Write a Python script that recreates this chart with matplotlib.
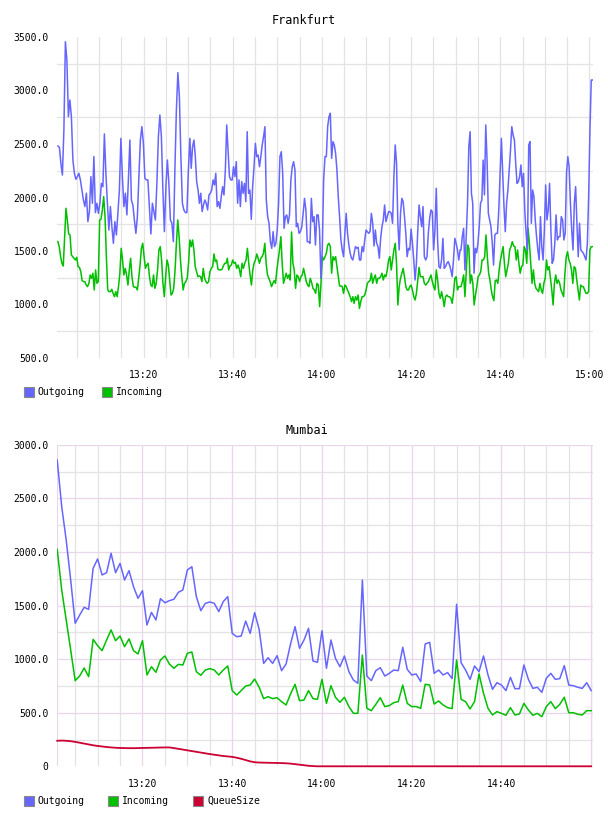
import numpy as np
import matplotlib
matplotlib.use("Agg")
import matplotlib.pyplot as plt

# ---------------- Data ----------------
# Frankfurt: minutes after 13:00, read in four consecutive windows
fra_windows = [(0.8, 30.4), (30.7, 60.7), (61.0, 91.0), (91.2, 120.7)]

fra_out_1 = [2481, 2469, 2320, 2210, 2630, 3456, 3285, 2755, 2911, 2755, 2350, 2226, 2170, 2195, 2226,
             2164, 2070, 1977, 1915, 2040, 1774, 1868, 2195, 1946, 2382, 1859, 1946, 1852, 1946, 2132,
             2101, 2594, 2226, 1946, 1696, 1915, 1727, 1572, 1774, 1650, 1852, 2070, 2553, 2195, 1915,
             2040, 1837, 2164, 2537, 1977, 1930, 1790, 1665, 1821, 2195, 2537, 2662, 2506, 2179, 2164,
             2164, 1915, 1659, 1946, 1868, 1790, 2132, 2569, 2771, 2569, 2070, 1681, 2101, 2350, 2132,
             1790, 1759, 1587, 2257, 2818, 3167, 2942, 2382, 1946, 1884, 1859, 1859, 2257, 2553]
fra_out_2 = [2273, 2475, 2537, 2382, 2148, 2070, 1946, 2040, 1868, 1930, 1977, 1946, 1884, 2024, 2039,
             2070, 2164, 2117, 2226, 1915, 1961, 1899, 2008, 2101, 2024, 2257, 2678, 2444, 2195, 2164,
             2164, 2288, 2195, 2335, 1946, 2164, 1915, 2148, 2039, 2132, 1961, 2615, 2039, 2070, 1796,
             2101, 2288, 2506, 2382, 2397, 2288, 2382, 2491, 2569, 2662, 1977, 1821, 1759, 1587, 1525,
             1681, 1541, 1572, 1696, 1946, 2382, 2428, 2226, 1712, 1821, 1837, 1759, 1837, 2164, 2288,
             2335, 2257, 1727, 1759, 1665, 1681, 1727, 1852, 1992, 1884, 1587, 1587, 1572, 1992, 1774,
             1821, 1556, 1837, 1837, 1696, 1245, 1510, 2164, 2382]
fra_out_3 = [2382, 2662, 2755, 2787, 2366, 2522, 2491, 2413, 2257, 2008, 1821, 1603, 1510, 1447, 1665,
             1852, 1665, 1556, 1478, 1432, 1416, 1478, 1541, 1525, 1535, 1416, 1416, 1541, 1494, 1603,
             1696, 1681, 1665, 1681, 1852, 1759, 1547, 1696, 1572, 1541, 1432, 1618, 1727, 1790, 1930,
             1774, 1821, 1868, 1868, 1852, 1759, 2195, 2491, 2320, 1759, 1510, 1852, 1992, 1961, 1821,
             1665, 1447, 1525, 1510, 1706, 1572, 1416, 1229, 1385, 1681, 1930, 1821, 1727, 1915, 1447,
             1416, 1447, 1665, 1805, 1884, 1868, 1510, 1696, 2086, 1603, 1354, 1338, 1416, 1618, 1338,
             1354, 1385, 1401, 1369, 1323, 1260, 1416, 1618, 1572, 1510, 1416, 1510]
fra_out_4 = [1510, 1634, 1712, 1323, 1634, 1946, 2475, 2615, 2039, 1946, 1292, 1525, 1484, 1572, 1727,
             1946, 1977, 2350, 2024, 2678, 2350, 1852, 1790, 1727, 1572, 1369, 1650, 1665, 1665, 1884,
             2226, 2553, 2226, 1915, 1681, 1946, 2070, 2257, 2444, 2662, 2584, 2537, 2320, 2132, 2148,
             2195, 2304, 2101, 2226, 1868, 1665, 1510, 2491, 2522, 1759, 2070, 2008, 1790, 1634, 1510,
             1416, 1821, 1541, 1416, 1696, 2117, 1790, 1884, 2132, 1696, 1385, 1416, 1572, 1837, 1603,
             1634, 1634, 1821, 1790, 1603, 1665, 2226, 2382, 2288, 1946, 1696, 1510, 1946, 2101, 1759,
             1447, 1759, 1510, 1494, 1478, 1447, 1416, 1572, 2008, 2631, 3098, 3098]

fra_in_1 = [1587, 1541, 1447, 1385, 1360, 1634, 1899, 1790, 1659, 1650, 1463, 1447, 1432, 1416, 1441,
            1354, 1347, 1307, 1223, 1214, 1214, 1182, 1167, 1198, 1276, 1245, 1292, 1136, 1323, 1198,
            1214, 1790, 1796, 1883, 2008, 1821, 1447, 1136, 1120, 1120, 1142, 1104, 1073, 1120, 1073,
            1167, 1292, 1525, 1416, 1276, 1338, 1276, 1182, 1323, 1432, 1260, 1167, 1161, 1161, 1136,
            1245, 1369, 1525, 1572, 1447, 1338, 1369, 1385, 1260, 1182, 1167, 1276, 1151, 1198, 1323,
            1510, 1541, 1416, 1198, 1073, 1260, 1416, 1369, 1229, 1089, 1104, 1151, 1323, 1572, 1790,
            1634, 1416, 1260, 1136, 1198, 1214, 1245, 1385, 1603]
fra_in_2 = [1541, 1603, 1510, 1354, 1307, 1260, 1267, 1260, 1214, 1338, 1245, 1214, 1198, 1214, 1307,
            1338, 1354, 1472, 1401, 1416, 1329, 1323, 1323, 1329, 1360, 1385, 1385, 1432, 1323, 1360,
            1369, 1416, 1385, 1394, 1338, 1369, 1329, 1260, 1385, 1338, 1385, 1416, 1525, 1385, 1276,
            1182, 1323, 1385, 1416, 1472, 1432, 1385, 1432, 1447, 1478, 1572, 1385, 1276, 1245, 1214,
            1167, 1198, 1223, 1198, 1323, 1416, 1510, 1634, 1385, 1198, 1245, 1292, 1245, 1276, 1229,
            1678, 1385, 1323, 1151, 1276, 1260, 1214, 1260, 1276, 1338, 1276, 1214, 1182, 1167, 1245,
            1205, 1151, 1136, 1104, 1198, 1182, 980, 1198, 1447, 1416, 1447]
fra_in_3 = [1478, 1556, 1572, 1541, 1292, 1447, 1416, 1447, 1354, 1260, 1173, 1173, 1167, 1104, 1182,
            1167, 1136, 1104, 1073, 1027, 1073, 1011, 1073, 1042, 1089, 964, 1027, 1073, 1073, 1089,
            1136, 1198, 1214, 1223, 1292, 1198, 1245, 1276, 1198, 1245, 1245, 1260, 1292, 1229, 1276,
            1260, 1323, 1416, 1447, 1323, 1416, 1510, 1572, 1385, 996, 1167, 1245, 1292, 1338, 1260,
            1167, 1136, 1136, 1167, 1182, 1136, 1073, 1042, 1104, 1229, 1347, 1260, 1260, 1260, 1198,
            1182, 1198, 1214, 1245, 1276, 1214, 1167, 1136, 1323, 1229, 1104, 1058, 1120, 1058, 980,
            1073, 1089, 1073, 1073, 1058, 1011, 1104, 1245, 1260, 1136, 1167, 1167]
fra_in_4 = [1167, 1214, 1276, 1073, 1323, 1556, 1525, 1198, 1276, 1198, 996, 1089, 1167, 1260, 1276,
            1307, 1416, 1416, 1447, 1650, 1447, 1292, 1229, 1136, 1073, 1036, 1223, 1229, 1198, 1323,
            1416, 1478, 1541, 1385, 1260, 1323, 1385, 1510, 1541, 1587, 1547, 1541, 1416, 1510, 1385,
            1292, 1354, 1369, 1541, 1510, 1385, 1712, 1572, 1385, 1198, 1323, 1198, 1151, 1136, 1120,
            1198, 1136, 1104, 1198, 1245, 1416, 1323, 1354, 1245, 1136, 996, 1198, 1276, 1198, 1229,
            1198, 1136, 1104, 1073, 1292, 1447, 1494, 1416, 1385, 1323, 1198, 1354, 1338, 1229, 1136,
            1042, 1182, 1167, 1167, 1136, 1104, 1104, 1120, 1510, 1541, 1541]

# Mumbai: one sample per minute, 13:01 .. 15:00
mum_out = [2857, 2422, 2111, 1738, 1334, 1411, 1483, 1464, 1847, 1934, 1785, 1806, 1987, 1806, 1893,
           1738, 1825, 1676, 1567, 1638, 1318, 1436, 1365, 1564, 1526, 1545, 1558, 1623, 1645, 1831,
           1862, 1583, 1452, 1520, 1533, 1520, 1443, 1536, 1583, 1240, 1209, 1215, 1355, 1240, 1433,
           1278, 960, 1013, 960, 1032, 892, 954, 1141, 1303, 1101, 1178, 1287, 982, 970, 1265,
           914, 1178, 1007, 929, 1029, 883, 805, 774, 1738, 842, 799, 892, 920, 842, 867,
           898, 892, 1110, 905, 852, 861, 790, 1141, 1156, 867, 898, 852, 874, 818, 1511,
           967, 898, 811, 936, 883, 1029, 852, 718, 780, 758, 706, 830, 724, 724, 945,
           811, 727, 737, 690, 821, 867, 811, 818, 939, 758, 752, 737, 727, 780, 706]
mum_in = [2024, 1645, 1365, 1085, 799, 842, 917, 836, 1184, 1125, 1079, 1178, 1272, 1172, 1215,
          1116, 1188, 1079, 1048, 1172, 852, 929, 877, 992, 1029, 954, 914, 951, 945, 1054,
          1066, 883, 849, 898, 911, 898, 852, 898, 936, 706, 665, 706, 749, 758, 814,
          737, 631, 650, 631, 640, 603, 572, 675, 765, 612, 619, 706, 631, 625, 811,
          587, 752, 644, 597, 644, 557, 494, 494, 1038, 541, 519, 578, 640, 557, 566,
          594, 603, 758, 587, 557, 557, 541, 765, 758, 581, 609, 572, 547, 538, 992,
          625, 603, 535, 603, 861, 681, 541, 479, 510, 494, 476, 547, 479, 488, 587,
          525, 476, 494, 463, 557, 603, 538, 578, 644, 500, 500, 485, 479, 519, 519]
mum_queue = [238, 240, 238, 234, 228, 220, 212, 204, 196, 190, 185, 180, 176, 173, 171,
             170, 169, 169, 170, 171, 172, 173, 174, 175, 176, 176, 170, 163, 156, 149,
             142, 135, 128, 121, 114, 108, 102, 96, 92, 88, 80, 70, 58, 46, 38,
             35, 34, 33, 32, 31, 30, 28, 25, 20, 15, 10, 5, 2, 0, 0,
             0, 0, 0, 0, 0, 0, 0, 0, 0, 0, 0, 0, 0, 0, 0,
             0, 0, 0, 0, 0, 0, 0, 0, 0, 0, 0, 0, 0, 0, 0,
             0, 0, 0, 0, 0, 0, 0, 0, 0, 0, 0, 0, 0, 0, 0,
             0, 0, 0, 0, 0, 0, 0, 0, 0, 0, 0, 0, 0, 0, 0]
mum_first_minute = 1

time_tick_minutes = [20, 40, 60, 80, 100, 120]
time_tick_labels = ["13:20", "13:40", "14:00", "14:20", "14:40", "15:00"]
fra_y_ticks = [500, 1000, 1500, 2000, 2500, 3000, 3500]
mum_y_ticks = [0, 500, 1000, 1500, 2000, 2500, 3000]

# ---------------- Style ----------------
C_OUT = "#6666ff"
C_IN = "#00c000"
C_Q = "#cc0033"
GRID = "#e3e3e3"
PINK = "#ead6ea"
FONT = "DejaVu Sans Mono"
FS = 7

W, H = 608, 816
fig = plt.figure(figsize=(W / 100, H / 100), dpi=100)


def ax_rect(left, top, right, bottom):
    return [left / W, 1 - bottom / H, (right - left) / W, (bottom - top) / H]


def style_axes(ax, ylim, yticks, xlim, xticks, xlabels):
    ax.set_xlim(*xlim)
    ax.set_ylim(*ylim)
    for s in ax.spines.values():
        s.set_visible(False)
    ax.tick_params(length=0, labelsize=FS, colors="#000000", pad=6)
    ax.set_yticks(yticks)
    ax.set_yticklabels([f"{v:.1f}" if v else "0" for v in yticks], family=FONT, fontsize=FS)
    ax.set_xticks(xticks)
    ax.set_xticklabels(xlabels, family=FONT, fontsize=FS)
    ax.tick_params(axis="x", pad=9)


# ---------- Frankfurt ----------
ax1 = fig.add_axes(ax_rect(57, 37, 593, 358))
style_axes(ax1, (500, 3500), fra_y_ticks, (0.6, 120.8), time_tick_minutes, time_tick_labels)
for m in range(5, 121, 5):
    ax1.axvline(m, color=GRID, lw=0.9, zorder=0)
for v in range(750, 3500, 500):
    ax1.axhline(v, color=GRID, lw=0.9, zorder=0)

fra_out_segments = [fra_out_1, fra_out_2, fra_out_3, fra_out_4]
fra_in_segments = [fra_in_1, fra_in_2, fra_in_3, fra_in_4]
fra_t_out = np.concatenate([np.linspace(a, b, len(s)) for (a, b), s in zip(fra_windows, fra_out_segments)])
fra_t_in = np.concatenate([np.linspace(a, b, len(s)) for (a, b), s in zip(fra_windows, fra_in_segments)])
ax1.plot(fra_t_in, np.concatenate(fra_in_segments), color=C_IN, lw=1.1, zorder=3)
ax1.plot(fra_t_out, np.concatenate(fra_out_segments), color=C_OUT, lw=1.1, zorder=4)

fig.text(304 / W, 1 - 20 / H, "Frankfurt", family=FONT, fontsize=8.5, ha="center", va="center")

# ---------- Mumbai ----------
ax2 = fig.add_axes(ax_rect(57, 444.7, 593, 766.3))
style_axes(ax2, (0, 3000), mum_y_ticks, (0.95, 120.4), time_tick_minutes[:-1], time_tick_labels[:-1])
for m in range(5, 121, 5):
    ax2.axvline(m, color=PINK if m % 20 == 0 else GRID, lw=0.9, zorder=0 if m % 20 else 1)
for v in range(250, 3000, 500):
    ax2.axhline(v, color=GRID, lw=0.9, zorder=0)
for v in range(500, 3001, 500):
    ax2.axhline(v, color=PINK, lw=0.9, zorder=1)
ax2.axvline(0.95, color=PINK, lw=1.5, zorder=1)
ax2.axvline(120.4, color=PINK, lw=0.9, zorder=1)

mum_t = mum_first_minute + np.arange(len(mum_out))
ax2.plot(mum_t, mum_in, color=C_IN, lw=1.1, zorder=3)
ax2.plot(mum_t, mum_out, color=C_OUT, lw=1.1, zorder=4)
ax2.plot(mum_t, mum_queue, color=C_Q, lw=1.3, zorder=5, clip_on=False)

fig.text(307 / W, 1 - 430 / H, "Mumbai", family=FONT, fontsize=8.5, ha="center", va="center")


# ---------- Legends ----------
def legend_item(x, y, color, label):
    fig.patches.append(plt.Rectangle((x / W, 1 - (y + 5) / H), 10 / W, 10 / H,
                                     transform=fig.transFigure, facecolor=color,
                                     edgecolor="#888888", lw=0.8))
    fig.text((x + 14) / W, 1 - y / H, label, family=FONT, fontsize=FS, ha="left", va="center")


legend_item(24, 392, C_OUT, "Outgoing")
legend_item(102, 392, C_IN, "Incoming")
legend_item(24, 800.5, C_OUT, "Outgoing")
legend_item(108, 800.5, C_IN, "Incoming")
legend_item(193, 800.5, C_Q, "QueueSize")

fig.savefig("out.png", dpi=100)
